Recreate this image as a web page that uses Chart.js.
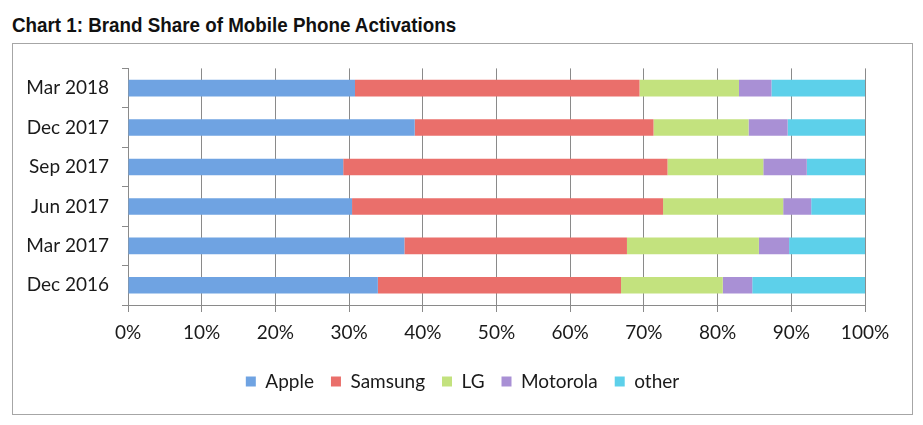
<!DOCTYPE html>
<html>
<head>
<meta charset="utf-8">
<script src="https://cdn.jsdelivr.net/npm/chart.js@4"></script>
<style>
  body { margin: 0; background: #fff; width: 923px; height: 425px; position: relative; overflow: hidden; }
  #title { position: absolute; left: 12px; top: 13px; font-family: "Liberation Sans Narrow", "Liberation Sans", sans-serif; font-weight: bold; font-size: 21px; color: #111; transform: scaleX(0.895); transform-origin: left top; white-space: nowrap; }
  #box { position: absolute; left: 12px; top: 43px; width: 899px; height: 370px; border: 1px solid #a6a6a6; }
</style>
</head>
<body>
<div id="title">Chart 1: Brand Share of Mobile Phone Activations</div>
<div id="box"><canvas id="chart"></canvas></div>
<script>
// Datos (porcentaje de activaciones)
const periodos = ['Mar 2018', 'Dec 2017', 'Sep 2017', 'Jun 2017', 'Mar 2017', 'Dec 2016'];
const apple    = [30.8, 38.9, 29.2, 30.4, 37.5, 33.9];
const samsung  = [38.6, 32.4, 44.0, 42.2, 30.2, 33.0];
const lg       = [13.5, 12.9, 13.0, 16.3, 17.9, 13.8];
const motorola = [4.4, 5.3, 5.9, 3.8, 4.1, 4.0];
const otros    = [12.7, 10.5, 7.9, 7.3, 10.3, 15.3];
const ticksX   = [0, 10, 20, 30, 40, 50, 60, 70, 80, 90, 100];

const fuente = { family: 'Lato, "Open Sans", sans-serif', size: 19 };

const ctx = document.getElementById('chart').getContext('2d');
const myChart = new Chart(ctx, {
    type: 'bar',
    data: {
        labels: periodos,
        datasets: [
            { label: 'Apple', data: apple, backgroundColor: '#6fa3e2' },
            { label: 'Samsung', data: samsung, backgroundColor: '#ea6f6b' },
            { label: 'LG', data: lg, backgroundColor: '#c3e27e' },
            { label: 'Motorola', data: motorola, backgroundColor: '#a990d5' },
            { label: 'other', data: otros, backgroundColor: '#5dd0ea' }
        ]
    },
    options: {
        indexAxis: 'y',
        responsive: true,
        maintainAspectRatio: false,
        animation: false,
        layout: { padding: { left: 0, right: 0, top: 24, bottom: 13 } },
        datasets: { bar: { barPercentage: 0.42, categoryPercentage: 1 } },
        scales: {
            x: {
                stacked: true,
                min: 0,
                max: 100,
                afterBuildTicks: scale => { scale.ticks = ticksX.map(v => ({ value: v })); },
                afterFit: scale => { scale.height = 50; },
                grid: { color: '#8a8a8a', tickLength: 7 },
                border: { color: '#8a8a8a' },
                ticks: { color: '#1a1a1a', font: fuente, padding: 9, callback: v => v + '%' }
            },
            y: {
                stacked: true,
                afterFit: scale => { scale.width = 115; },
                grid: { drawOnChartArea: false, color: '#8a8a8a', tickLength: 6 },
                border: { color: '#8a8a8a' },
                ticks: { color: '#1a1a1a', font: fuente, padding: 13 }
            },
            // eje vacío a la derecha, solo para dejar margen
            margen: {
                type: 'category',
                position: 'right',
                afterFit: scale => { scale.width = 47; },
                grid: { display: false },
                border: { display: false },
                ticks: { display: false }
            }
        },
        plugins: {
            legend: {
                position: 'bottom',
                labels: { color: '#1a1a1a', font: fuente, boxWidth: 10, boxHeight: 10, padding: 17 }
            },
            tooltip: { enabled: false }
        }
    }
});
</script>
</body>
</html>
